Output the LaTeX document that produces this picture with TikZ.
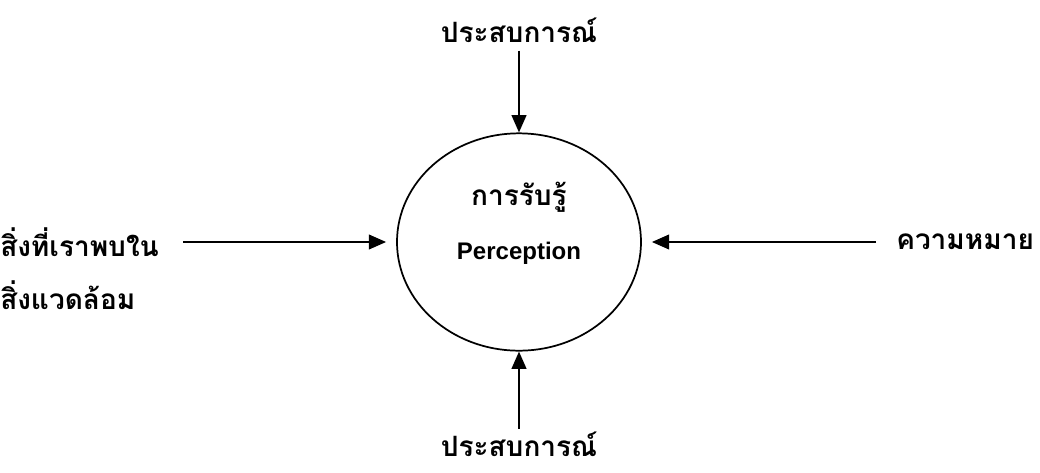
\documentclass[tikz,border=0pt]{standalone}
\usepackage{fontspec}
\newfontfamily\thaifont[Script=Thai]{Loma}
\setsansfont{Liberation Sans}
\usetikzlibrary{positioning,arrows.meta,shapes.geometric}

\begin{document}
\begin{tikzpicture}[
    x=0.75pt, y=-0.75pt,
    >={Triangle[length=13pt,width=11pt]},
    every node/.style={inner sep=0pt},
    label/.style={font=\thaifont\bfseries\fontsize{21}{24}\selectfont},
    arr/.style={->, line width=1.6pt},
]
\useasboundingbox (0,0) rectangle (1040,472);

% Centre: the perception ellipse
\node[draw, ellipse, line width=1.3pt, minimum width=183pt, minimum height=163pt] (percep) at (519,242) {};
\node[font=\thaifont\bfseries\fontsize{21}{24}\selectfont] (percth) at (519,197) {การรับรู้};
\node[font=\sffamily\bfseries\fontsize{18}{22}\selectfont] (percen) at (519,253) {Perception};

% Top and bottom: experience
\node[label] (exptop) at (519,30) {ประสบการณ์};
\node[label] (expbot) at (519,444) {ประสบการณ์};
\draw[arr, shorten <=6pt] (exptop.south) -- (percep.north);
\draw[arr, shorten <=2pt] (expbot.north) -- (percep.south);

% Left: things we find in the environment
\node[label, anchor=west] (envA) at (0,242) {สิ่งที่เราพบใน};
\node[label, anchor=west] (envB) at (0,295) {สิ่งแวดล้อม};
\draw[arr, shorten <=18pt, shorten >=7.5pt] (envA.east) -- (percep.west);

% Right: meaning
\node[label, anchor=west] (mean) at (896,242) {ความหมาย};
\draw[arr, shorten <=15pt, shorten >=7.5pt] (mean.west) -- (percep.east);

\end{tikzpicture}
\end{document}
